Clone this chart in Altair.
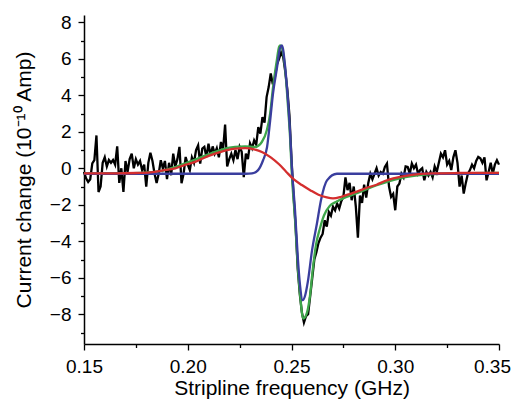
import altair as alt
import pandas as pd

# ---- measured signal (black), sampled every 1 MHz from 0.150 to 0.350 GHz ----
black_x = [round(0.150 + 0.001 * i, 3) for i in range(201)]
black_y = [
    -0.2, -0.55, -0.75, -0.6, 0.27, 0.45, 1.8, -1.3, -1.0, 0.3,
    0.6, 0.1, 0.45, 0.3, 0.45, 0.2, 1.2, -0.8, 0.0, -1.3,
    0.4, -0.2, 0.5, 0.8, 0.0, 0.5, 0.2, 0.4, -0.1, 0.2,
    -1.0, 0.3, 0.85, 0.4, -0.3, -0.8, -0.3, 0.44, 0.0, 0.4,
    -0.6, 0.3, -0.38, 0.8, 0.1, 0.5, 1.17, -0.82, -0.3, 0.62,
    0.2, -0.1, 0.6, 0.3, 1.0, 1.26, 0.26, 1.08, 1.17, 0.62,
    1.35, 0.7, 1.2, 0.8, 1.1, 0.6, 1.44, 1.0, 2.4, 0.1,
    0.5, 0.8, 0.44, 1.0, 0.5, 1.17, 0.9, -0.48, 0.8, 0.5,
    1.37, 1.1, 1.53, 1.3, 2.26, 1.9, 2.8, 2.5, 3.9, 4.45,
    5.2, 4.6, 5.0, 5.7, 6.0, 6.35, 6.1, 5.3, 4.3, 2.9,
    0.5, -1.5, -3.2, -5.5, -6.9, -7.9, -8.45, -8.1, -8.0, -7.0,
    -6.0, -5.0, -4.6, -4.1, -3.8, -3.6, -2.85, -3.2, -2.4, -2.6,
    -2.1, -2.3, -1.93, -2.2, -1.8, -1.57, -0.5, -1.2, -0.8, -1.75,
    -1.0, -2.1, -3.8, -1.5, -1.9, -0.9, -1.6, -0.8, -0.3, -0.6,
    -0.3, 0.0, -0.4, -0.2, -0.3, 0.07, 0.26, -1.0, -1.57, -1.4,
    -2.3, -1.0, -0.84, -0.3, -0.5, 0.1, 0.07, -0.3, 0.26, 0.0,
    0.2, -0.3, -0.1, 0.0, -0.66, -0.2, -0.4, -0.2, -0.5, 0.1,
    -0.2, 0.3, 0.8, 0.6, 0.99, 0.2, 0.4, -0.1, 0.6, 0.99,
    0.3, -1.0, -0.4, -1.39, -0.8, -0.3, -0.1, 0.2, 0.0, 0.4,
    0.62, 0.55, 0.3, 0.6, -0.66, -0.2, 0.3, -0.3, 0.2, 0.44,
    0.2,
]

# ---- total fit (green) ----
green_x = [0.150, 0.170, 0.1844, 0.194, 0.2036, 0.2132, 0.218, 0.2228, 0.2276,
           0.2325, 0.2357, 0.2381, 0.2397, 0.2411, 0.2429, 0.2440, 0.2446, 0.2454,
           0.2469, 0.2483, 0.2493, 0.2502, 0.2517, 0.2531, 0.2541, 0.2557, 0.2575,
           0.2589, 0.2603, 0.2618, 0.2637, 0.2656, 0.2685, 0.2714, 0.2748, 0.2815,
           0.2911, 0.3022, 0.3118, 0.3214, 0.3358, 0.350]
green_y = [-0.28, -0.27, -0.2, 0.07, 0.48, 0.9, 1.08, 1.17, 1.2,
           1.17, 1.44, 2.08, 3.0, 4.45, 5.9, 6.65, 6.74, 6.6,
           5.5, 3.4, 1.7, -0.4, -2.8, -5.5, -6.9, -8.24, -7.9,
           -7.0, -5.5, -4.2, -3.3, -2.6, -2.05, -1.85, -1.65, -1.37,
           -0.93, -0.55, -0.38, -0.3, -0.27, -0.25]

# ---- narrow component (blue) ----
blue_x = [0.150, 0.200, 0.228, 0.2310, 0.2339, 0.2363, 0.2382, 0.2397, 0.2411,
          0.2430, 0.2445, 0.2454, 0.2469, 0.2483, 0.2493, 0.2502, 0.2517, 0.2531,
          0.2541, 0.2554, 0.2565, 0.2579, 0.2599, 0.2623, 0.2642, 0.2671, 0.2719,
          0.2800, 0.350]
blue_y = [-0.3, -0.3, -0.3, -0.28, -0.1, 0.44, 1.15, 2.6, 4.1,
          5.5, 6.6, 6.74, 5.6, 3.7, 2.0, 0.0, -2.3, -5.0,
          -6.4, -7.23, -7.0, -6.2, -4.5, -3.0, -1.75, -0.66, -0.3,
          -0.3, -0.3]

# ---- broad component (red) ----
red_x = [0.150, 0.165, 0.175, 0.182, 0.188, 0.194, 0.199, 0.2036, 0.208, 0.2132,
         0.218, 0.2229, 0.2276, 0.232, 0.236, 0.240, 0.244, 0.2475, 0.251, 0.255,
         0.259, 0.263, 0.267, 0.270, 0.274, 0.2775, 0.2815, 0.286, 0.291, 0.295,
         0.299, 0.3022, 0.308, 0.318, 0.330, 0.350]
red_y = [-0.28, -0.28, -0.26, -0.22, -0.12, 0.0, 0.2, 0.35, 0.58, 0.8,
         0.97, 1.08, 1.1, 1.04, 0.88, 0.6, 0.22, -0.2, -0.6, -0.92,
         -1.2, -1.45, -1.6, -1.65, -1.56, -1.43, -1.28, -1.08, -0.9, -0.7,
         -0.55, -0.47, -0.36, -0.28, -0.26, -0.25]

x_ticks = [0.15, 0.175, 0.20, 0.225, 0.25, 0.275, 0.30, 0.325, 0.35]
y_ticks = list(range(-9, 9))

FONT = "Liberation Sans"

xscale = alt.Scale(domain=[0.15, 0.35], nice=False, zero=False)
yscale = alt.Scale(domain=[-9.63, 8.40], nice=False, zero=False)

xaxis = alt.Axis(
    values=x_ticks,
    title="Stripline frequency (GHz)",
    labelExpr="round(datum.value * 200) % 2 == 0 ? format(datum.value, '.2f') : ''",
    tickSize={"condition": {"test": "round(datum.value * 200) % 2 == 0", "value": 6}, "value": 3.5},
    labelOffset={"condition": {"test": "datum.value > 0.34", "value": -7}, "value": 0},
    labelFlush=False,
    labelOverlap=False,
    labelPadding=7,
    titleY=50,
    titleBaseline="alphabetic",
)
yaxis = alt.Axis(
    values=y_ticks,
    title="Current change (10⁻¹⁰ Amp)",
    labelExpr="datum.value % 2 == 0 ? datum.label : ''",
    tickSize={"condition": {"test": "datum.value % 2 == 0", "value": 6}, "value": 3.5},
    labelOverlap=False,
    labelPadding=7,
    titleX=-54,
    titleBaseline="alphabetic",
)


def series(xs, ys, color, width, interp):
    df = pd.DataFrame({"f": xs, "v": ys})
    return alt.Chart(df).mark_line(color=color, strokeWidth=width, interpolate=interp).encode(
        x=alt.X("f:Q", scale=xscale, axis=xaxis),
        y=alt.Y("v:Q", scale=yscale, axis=yaxis),
    )


black = series(black_x, black_y, "#000000", 2.3, "linear")
green = series(green_x, green_y, "#3ea64a", 2.3, "monotone")
blue = series(blue_x, blue_y, "#3a3e9e", 2.3, "monotone")
red = series(red_x, red_y, "#d42e2e", 2.3, "monotone")

chart = (
    alt.layer(black, green, blue, red)
    .properties(
        width=415,
        height=329,
        autosize=alt.AutoSizeParams(type="none"),
        padding={"left": 76, "top": 7, "right": 13, "bottom": 55},
    )
    .configure_view(stroke=None)
    .configure_axis(
        grid=False,
        domainColor="black",
        domainWidth=1.5,
        tickColor="black",
        tickWidth=1.3,
        labelColor="black",
        titleColor="black",
        labelFont=FONT,
        titleFont=FONT,
        labelFontSize=19,
        titleFontSize=21,
        titleFontWeight="normal",
    )
)

chart.save("out.html", embed_options={"renderer": "svg", "actions": False})
